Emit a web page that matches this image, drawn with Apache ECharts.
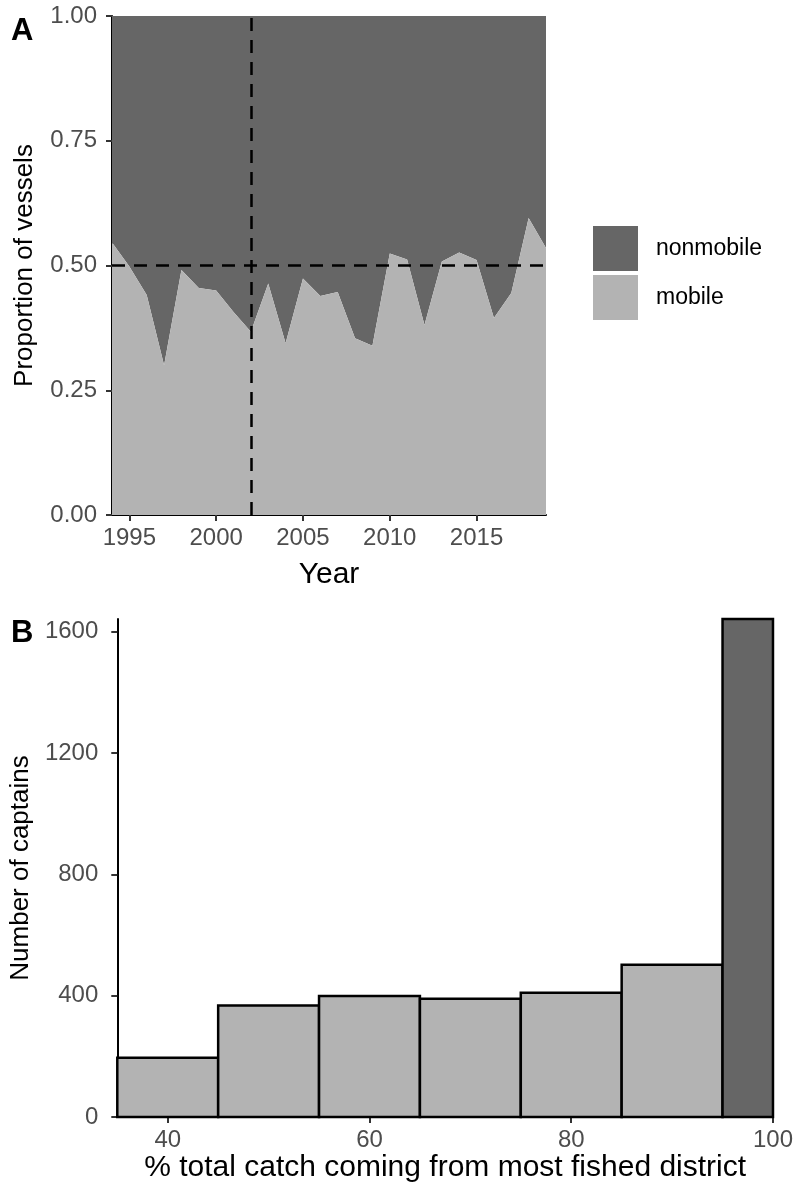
<!DOCTYPE html>
<html>
<head>
<meta charset="utf-8">
<script src="https://cdn.jsdelivr.net/npm/echarts@6/dist/echarts.min.js"></script>
<style>
html,body{margin:0;padding:0;background:#fff;}
#c{width:796px;height:1193px;}
</style>
</head>
<body>
<div id="c"></div>
<script>
// ---- Panel A data ----
const years = [1994,1995,1996,1997,1998,1999,2000,2001,2002,2003,2004,2005,2006,2007,2008,2009,2010,2011,2012,2013,2014,2015,2016,2017,2018,2019];
const mobileProp = [0.546,0.498,0.441,0.300,0.491,0.455,0.450,0.407,0.367,0.464,0.344,0.474,0.439,0.447,0.354,0.339,0.524,0.512,0.381,0.508,0.526,0.511,0.395,0.445,0.595,0.535];
const yearTicks = [1995,2000,2005,2010,2015];
const propTicks = [0,0.25,0.5,0.75,1];
const refYear = 2002;
const refProp = 0.5;

// ---- Panel B data ----
const binLower = [35,45,55,65,75,85,95];
const binUpper = [45,55,65,75,85,95,100];
const captains = [195,368,399,390,410,502,1642];
const binGroup = ['mobile','mobile','mobile','mobile','mobile','mobile','nonmobile'];
const pctTicks = [40,60,80,100];
const captainTicks = [0,400,800,1200,1600];

const DARK = '#666666', LIGHT = '#B3B3B3';
const FONT = "'Liberation Sans', Arial, sans-serif";
const tickColor = '#4D4D4D';

const chart = echarts.init(document.getElementById('c'), null, {renderer:'canvas'});

const axisLineStyle = {show:true, lineStyle:{color:'#000', width:2}};
const axisTickStyle = {show:true, length:6, lineStyle:{color:'#333', width:2}};
const plain = v => String(v);

const option = {
  animation:false,
  backgroundColor:'#fff',
  textStyle:{fontFamily:FONT},
  graphic:[
    {type:'text', left:11, top:16, style:{text:'A', font:"bold 31px "+FONT, fill:'#000'}},
    {type:'text', left:11, top:618, style:{text:'B', font:"bold 31px "+FONT, fill:'#000'}}
  ],
  legend:{
    orient:'vertical', left:593, top:226, padding:0, itemWidth:45, itemHeight:45, itemGap:4,
    selectedMode:false,
    textStyle:{fontSize:23, color:'#000', fontFamily:FONT, padding:[0,0,0,13]},
    data:[
      {name:'nonmobile', icon:'rect', itemStyle:{color:DARK, borderWidth:0}},
      {name:'mobile', icon:'rect', itemStyle:{color:LIGHT, borderWidth:0}}
    ]
  },
  grid:[
    {left:112, top:16, width:434, height:499},
    {left:117, top:619, width:660, height:498}
  ],
  xAxis:[
    {gridIndex:0, type:'value', min:years[0], max:years[years.length-1],
     axisLine:axisLineStyle, axisTick:Object.assign({customValues:yearTicks}, axisTickStyle),
     axisLabel:{customValues:yearTicks, color:tickColor, fontSize:24, margin:11, fontFamily:FONT, formatter:plain},
     splitLine:{show:false},
     name:'Year', nameLocation:'middle', nameGap:45,
     nameTextStyle:{fontSize:30, color:'#000', fontFamily:FONT}},
    {gridIndex:1, type:'value', min:35, max:100,
     axisLine:axisLineStyle, axisTick:Object.assign({customValues:pctTicks}, axisTickStyle),
     axisLabel:{customValues:pctTicks, color:tickColor, fontSize:24, margin:11, fontFamily:FONT, formatter:plain},
     splitLine:{show:false},
     name:'% total catch coming from most fished district', nameLocation:'middle', nameGap:35,
     nameTextStyle:{fontSize:30, color:'#000', fontFamily:FONT}}
  ],
  yAxis:[
    {gridIndex:0, type:'value', min:0, max:1,
     axisLine:axisLineStyle, axisTick:Object.assign({customValues:propTicks}, axisTickStyle),
     axisLabel:{customValues:propTicks, color:tickColor, fontSize:24, margin:15, fontFamily:FONT,
       formatter:v=>v.toFixed(2)},
     splitLine:{show:false},
     name:'Proportion of vessels', nameLocation:'middle', nameGap:74,
     nameTextStyle:{fontSize:26, color:'#000', fontFamily:FONT}},
    {gridIndex:1, type:'value', min:0, max:captains[captains.length-1],
     axisLine:axisLineStyle, axisTick:Object.assign({customValues:captainTicks}, axisTickStyle),
     axisLabel:{customValues:captainTicks, color:tickColor, fontSize:24, margin:19, fontFamily:FONT, formatter:plain},
     splitLine:{show:false},
     name:'Number of captains', nameLocation:'middle', nameGap:79,
     nameTextStyle:{fontSize:26, color:'#000', fontFamily:FONT}}
  ],
  series:[
    // nonmobile share fills from the mobile boundary up to 1.00
    {name:'nonmobile', type:'line', xAxisIndex:0, yAxisIndex:0,
     data:years.map((y,i)=>[y, mobileProp[i]]),
     showSymbol:false, symbol:'none', lineStyle:{width:0}, color:DARK,
     itemStyle:{color:DARK}, areaStyle:{color:DARK, opacity:1, origin:'end'}, z:1},
    {name:'mobile', type:'line', xAxisIndex:0, yAxisIndex:0,
     data:years.map((y,i)=>[y, mobileProp[i]]),
     showSymbol:false, symbol:'none', lineStyle:{width:0}, color:LIGHT,
     itemStyle:{color:LIGHT}, areaStyle:{color:LIGHT, opacity:1, origin:'start'}, z:1},
    {name:'ref', type:'line', xAxisIndex:0, yAxisIndex:0, data:[], z:5,
     markLine:{silent:true, symbol:'none', label:{show:false},
       lineStyle:{color:'#000', width:2.5, type:[13,9]},
       data:[{xAxis:refYear},{yAxis:refProp}]}},
    {name:'captains', type:'custom', xAxisIndex:1, yAxisIndex:1,
     data:binLower.map((lo,i)=>[lo, binUpper[i], captains[i], binGroup[i]==='nonmobile'?1:0]),
     encode:{x:[0,1], y:2},
     renderItem:function(params, api){
       const p0 = api.coord([api.value(0), 0]);
       const p1 = api.coord([api.value(1), api.value(2)]);
       return {type:'rect',
         shape:{x:p0[0], y:p1[1], width:p1[0]-p0[0], height:p0[1]-p1[1]},
         style:{fill: api.value(3)===1 ? DARK : LIGHT, stroke:'#000', lineWidth:2.5}};
     }}
  ]
};
chart.setOption(option);
</script>
</body>
</html>
